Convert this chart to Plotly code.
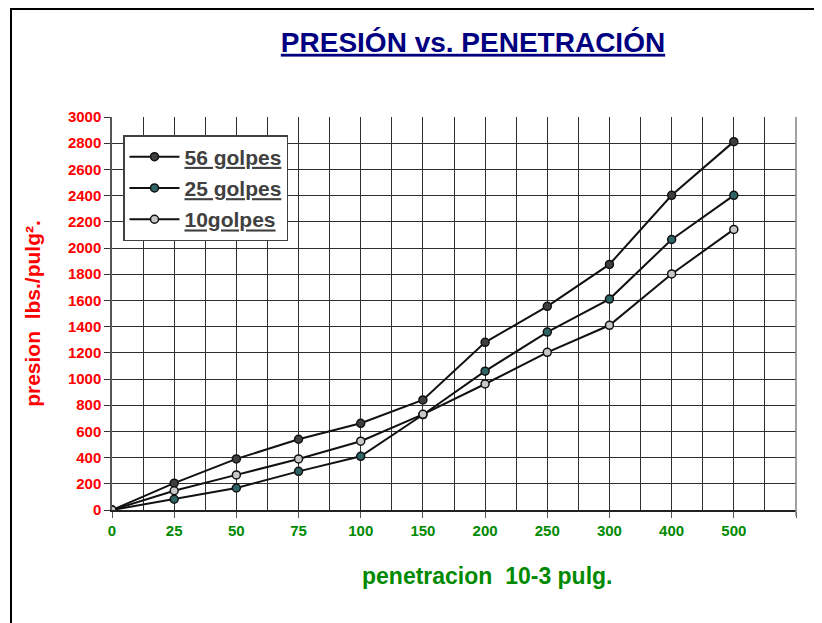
import plotly.graph_objects as go

penetracion = ["0", "25", "50", "75", "100", "150", "200", "250", "300", "400", "500"]
golpes_56 = [0, 205, 390, 540, 662, 840, 1280, 1555, 1875, 2402, 2812]
golpes_25 = [0, 82, 168, 295, 410, 727, 1060, 1358, 1610, 2065, 2402]
golpes_10 = [0, 147, 268, 390, 525, 730, 962, 1204, 1410, 1802, 2142]
y_ticks = list(range(0, 3001, 200))

xpos = list(range(len(penetracion)))

# page is offset 8px by body margin; figure coords = page coords - 8
OFF = 8
L, R, T, B = 112 - OFF, 796 - OFF, 117 - OFF, 510 - OFF
W, H = 822, 623
PW, PH = R - L, B - T

FONT = "Arial, Liberation Sans, sans-serif"

fig = go.Figure()
series = [
    ("56 golpes", golpes_56, "#3f3f3f"),
    ("25 golpes", golpes_25, "#2e6464"),
    ("10golpes", golpes_10, "#c8c8c8"),
]
for i, (name, vals, col) in enumerate(series):
    fig.add_trace(go.Scatter(
        x=xpos, y=vals, mode="lines+markers",
        name="<u>" + name + "</u>", legendgroup="g%d" % i,
        line=dict(color="#111111", width=2),
        marker=dict(size=8, color=col, line=dict(color="#111111", width=1.5)),
    ))

grid_col = "#303030"
fig.update_layout(
    width=W, height=H,
    margin=dict(l=L, r=W - R, t=T, b=H - B),
    paper_bgcolor="white", plot_bgcolor="white",
    showlegend=True,
    legend=dict(
        x=(123 - OFF - L) / PW, y=(B - (135 - OFF)) / PH,
        xanchor="left", yanchor="top",
        bgcolor="white", bordercolor="#404040", borderwidth=1.5,
        font=dict(family=FONT, size=21, color="#404040", weight="bold"),
        tracegroupgap=1, itemwidth=50,
    ),
    title=dict(
        text="<u>PRESIÓN vs. PENETRACIÓN</u>",
        x=(473 - OFF) / W, xanchor="center", y=1 - (42 - OFF) / H, yanchor="middle",
        font=dict(family=FONT, size=28, color="#000080", weight="bold"),
    ),
    xaxis=dict(
        range=[0, 11],
        tickvals=xpos + [11], ticktext=penetracion + [""],
        showgrid=True, gridcolor=grid_col, gridwidth=1,
        minor=dict(dtick=0.5, tick0=0, showgrid=True, gridcolor=grid_col, gridwidth=1, ticks=""),
        ticks="outside", ticklen=6, tickcolor="#555555",
        showline=True, linecolor="#222222", linewidth=1.5,
        tickfont=dict(family=FONT, size=15, color="#008a00", weight="bold"),
        zeroline=False,
    ),
    yaxis=dict(
        range=[0, 3000],
        tickvals=y_ticks,
        showgrid=True, gridcolor=grid_col, gridwidth=1,
        ticks="outside", ticklen=6, tickcolor="#333333",
        showline=True, linecolor="#555555", linewidth=1.5,
        tickfont=dict(family=FONT, size=15, color="#ff0000", weight="bold"),
        title=dict(text="presion  lbs./pulg².", standoff=22,
                   font=dict(family=FONT, size=21, color="#ff0000", weight="bold")),
        zeroline=False,
    ),
    annotations=[dict(
        text="penetracion  10-3 pulg.", xref="paper", yref="paper",
        x=(487 - OFF - L) / PW, y=(B - (576 - OFF)) / PH,
        xanchor="center", yanchor="middle", showarrow=False,
        font=dict(family=FONT, size=23, color="#008a00", weight="bold"),
    )],
)

# right edge line of plot area
fig.add_shape(type="line", xref="paper", yref="paper", x0=1, x1=1, y0=-6 / PH, y1=1,
              line=dict(color="#808080", width=1.5))
# outer frame
fig.add_shape(type="rect", xref="paper", yref="paper",
              x0=(11 - OFF - L) / PW, x1=(850 - L) / PW,
              y0=(B - 650) / PH, y1=(B - 1) / PH,
              line=dict(color="black", width=2), fillcolor="rgba(0,0,0,0)", layer="below")

fig.write_html("out.html")
